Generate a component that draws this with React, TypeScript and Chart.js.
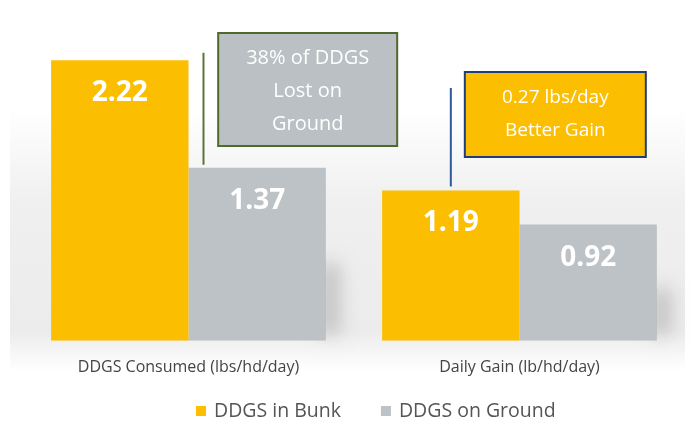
import React, { useEffect, useRef } from "react";
import { Chart, registerables } from "chart.js";

Chart.register(...registerables);

const categories = ["DDGS Consumed (lbs/hd/day)", "Daily Gain (lb/hd/day)"];
const seriesNames = ["DDGS in Bunk", "DDGS on Ground"];
const bunkValues = [2.22, 1.19];
const groundValues = [1.37, 0.92];
const calloutGround = ["38% of DDGS", "Lost on", "Ground"];
const calloutGain = ["0.27 lbs/day", "Better Gain"];

const YELLOW = "#FBBE00";
const GRAY = "#BCC2C5";
const FONT = "'Open Sans', 'Noto Sans', sans-serif";

const backgroundPlugin = {
  id: "bgShade",
  beforeDraw(chart: any) {
    const { ctx, width } = chart;
    const y = chart.scales.y;
    const base = y.getPixelForValue(0);
    ctx.save();
    ctx.fillStyle = "#ffffff";
    ctx.fillRect(0, 0, width, chart.height);
    const g = ctx.createLinearGradient(0, 110, 0, base + 30);
    g.addColorStop(0, "rgba(200,200,200,0)");
    g.addColorStop(0.35, "rgba(200,200,200,0.28)");
    g.addColorStop(0.85, "rgba(200,200,200,0.35)");
    g.addColorStop(1, "rgba(200,200,200,0)");
    ctx.fillStyle = g;
    ctx.fillRect(10, 110, width - 20, base + 30 - 110);
    const meta = chart.getDatasetMeta(1);
    meta.data.forEach((bar: any) => {
      ctx.save();
      ctx.shadowColor = "rgba(0,0,0,0.35)";
      ctx.shadowBlur = 18;
      ctx.shadowOffsetX = 14;
      ctx.fillStyle = "rgba(150,150,150,0.5)";
      const h = (base - bar.y) * 0.45;
      ctx.fillRect(bar.x + bar.width / 2 - 20, base - h, 20, h - 6);
      ctx.restore();
    });
    ctx.restore();
  },
};

const annotationPlugin = {
  id: "annos",
  afterDatasetsDraw(chart: any) {
    const { ctx } = chart;
    const y = chart.scales.y;
    const m0 = chart.getDatasetMeta(0);
    const m1 = chart.getDatasetMeta(1);
    ctx.save();
    ctx.fillStyle = "#ffffff";
    ctx.font = `bold 28px ${FONT}`;
    ctx.textAlign = "center";
    ctx.textBaseline = "middle";
    [m0, m1].forEach((m) => {
      m.data.forEach((bar: any, i: number) => {
        const v = (m === m0 ? bunkValues : groundValues)[i];
        ctx.fillText(v.toFixed(2), bar.x, bar.y + 33);
      });
    });

    const b0 = m0.data[0];
    const g0 = m1.data[0];
    const lineX1 = b0.x + b0.width / 2 + 15;
    ctx.strokeStyle = "#5E7434";
    ctx.lineWidth = 2;
    ctx.beginPath();
    ctx.moveTo(lineX1, y.getPixelForValue(2.28));
    ctx.lineTo(lineX1, g0.y - 3);
    ctx.stroke();

    const bx = g0.x - 39, by = 33, bw = 179, bh = 113;
    ctx.fillStyle = "#BAC0C3";
    ctx.fillRect(bx, by, bw, bh);
    ctx.strokeStyle = "#4F6A2C";
    ctx.strokeRect(bx, by, bw, bh);
    ctx.fillStyle = "#ffffff";
    ctx.font = `20px ${FONT}`;
    calloutGround.forEach((t, i) => ctx.fillText(t, bx + bw / 2, by + 25 + i * 33));

    const b1 = m0.data[1];
    const lineX2 = b1.x;
    ctx.strokeStyle = "#2E5A9C";
    ctx.beginPath();
    ctx.moveTo(lineX2, 88);
    ctx.lineTo(lineX2, b1.y - 4);
    ctx.stroke();

    const cx = lineX2 + 14, cy = 72, cw = 181, ch = 85;
    ctx.fillStyle = "#FBBE00";
    ctx.fillRect(cx, cy, cw, ch);
    ctx.strokeStyle = "#1F3E78";
    ctx.strokeRect(cx, cy, cw, ch);
    ctx.fillStyle = "#ffffff";
    ctx.font = `19px ${FONT}`;
    calloutGain.forEach((t, i) => ctx.fillText(t, cx + cw / 2, cy + 26 + i * 33));

    ctx.font = `19.5px ${FONT}`;
    ctx.textAlign = "left";
    const colors = [YELLOW, GRAY];
    let lx = 196;
    const ly = 411;
    seriesNames.forEach((name, i) => {
      ctx.fillStyle = colors[i];
      ctx.fillRect(lx, ly - 5, 10, 10);
      ctx.fillStyle = "#555555";
      ctx.fillText(name, lx + 18, ly);
      lx += 18 + ctx.measureText(name).width + 40;
    });
    ctx.restore();
  },
};

export default function App() {
  const ref = useRef<HTMLCanvasElement>(null);
  useEffect(() => {
    document.body.style.margin = "0";
    const chart = new Chart(ref.current!, {
      type: "bar",
      data: {
        labels: categories,
        datasets: [
          { label: seriesNames[0], data: bunkValues, backgroundColor: YELLOW, barPercentage: 1, categoryPercentage: 0.83 },
          { label: seriesNames[1], data: groundValues, backgroundColor: GRAY, barPercentage: 1, categoryPercentage: 0.83 },
        ],
      },
      options: {
        animation: false,
        responsive: false,
        layout: { padding: { left: 23, right: 10, top: 25, bottom: 44 } },
        scales: {
          x: {
            grid: { display: false },
            border: { display: false },
            ticks: { color: "#444", font: { family: FONT, size: 16 }, padding: 9 },
          },
          y: { display: false, min: 0, max: 2.5 },
        },
        plugins: {
          legend: { display: false },
          tooltip: { enabled: false },
        },
      },
      plugins: [backgroundPlugin, annotationPlugin],
    });
    return () => chart.destroy();
  }, []);
  return (
    <div style={{ width: 695, height: 430 }}>
      <canvas ref={ref} width={695} height={430} style={{ width: 695, height: 430 }} />
    </div>
  );
}
